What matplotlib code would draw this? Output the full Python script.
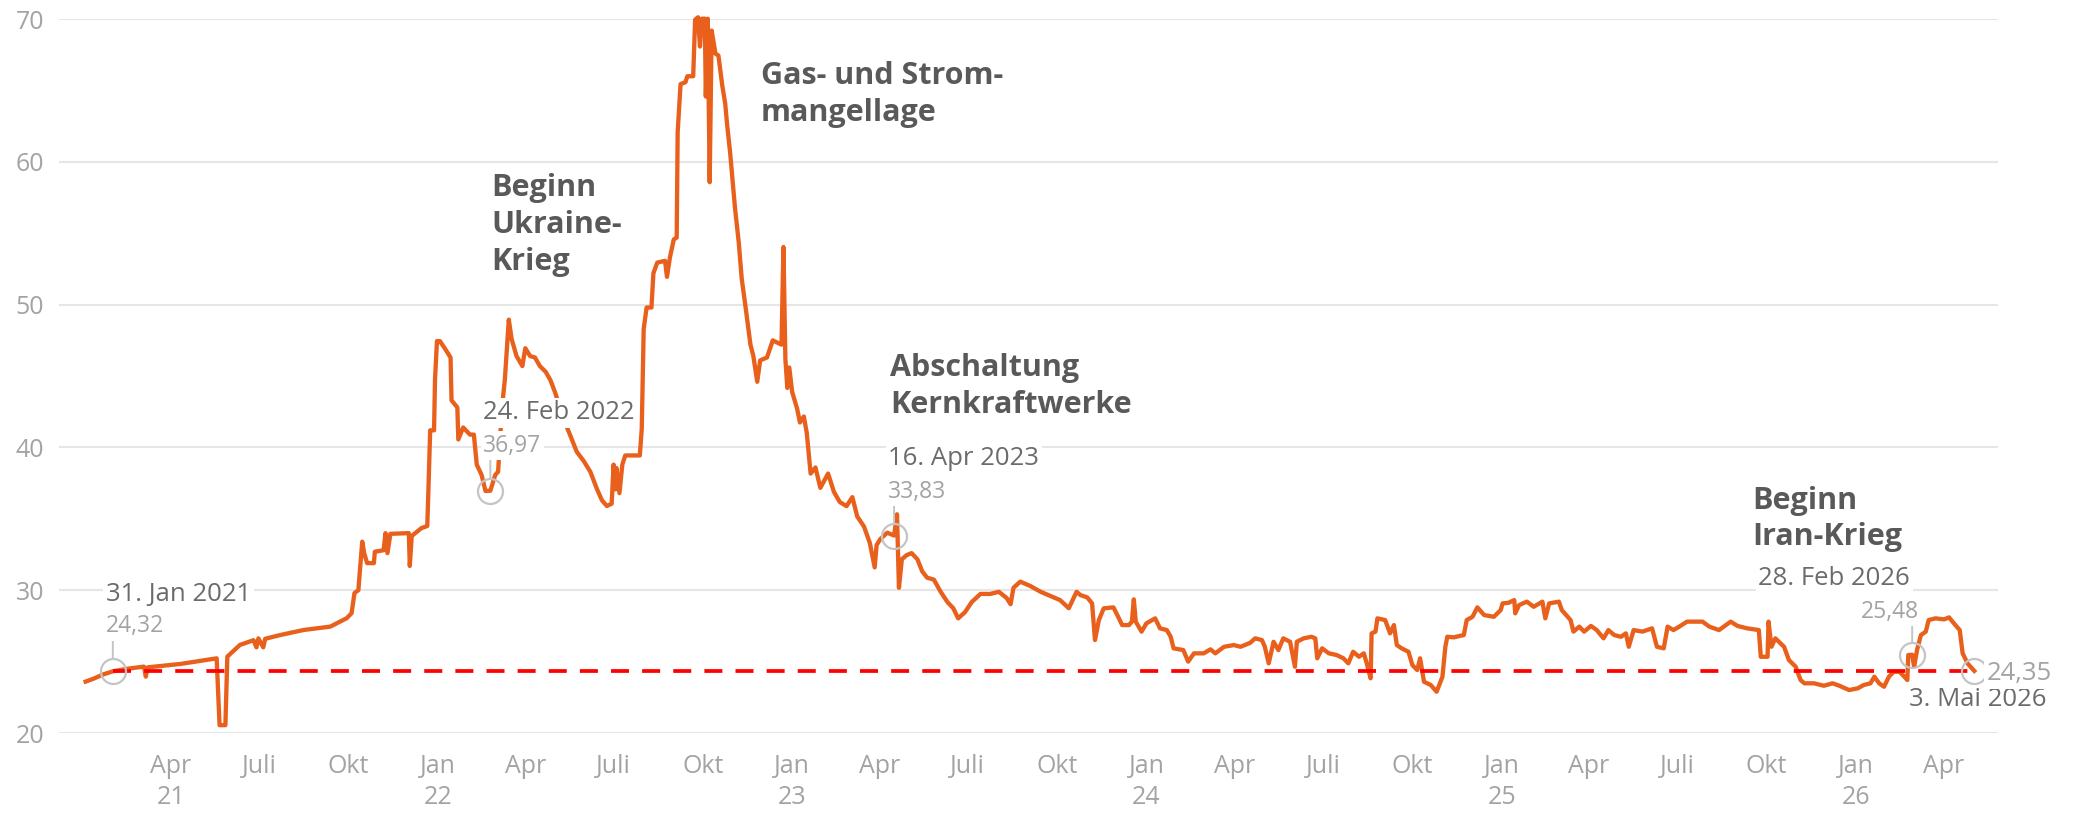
import matplotlib
matplotlib.use('Agg')
import matplotlib.pyplot as plt
import pandas as pd

plt.rcParams['font.family'] = ['Open Sans', 'DejaVu Sans']

# --- Daten ---
dates = [
    '2021-01-03', '2021-01-11', '2021-01-21', '2021-01-31', '2021-02-15', '2021-03-04',
    '2021-03-06', '2021-03-08', '2021-04-11', '2021-04-26', '2021-05-18', '2021-05-21',
    '2021-05-27', '2021-05-29', '2021-06-11', '2021-06-25', '2021-06-28', '2021-06-30',
    '2021-07-05', '2021-07-07', '2021-07-23', '2021-08-16', '2021-09-12', '2021-09-29',
    '2021-10-04', '2021-10-07', '2021-10-11', '2021-10-15', '2021-10-17', '2021-10-20',
    '2021-10-27', '2021-10-28', '2021-11-06', '2021-11-08', '2021-11-10', '2021-11-13',
    '2021-12-02', '2021-12-03', '2021-12-05', '2021-12-15', '2021-12-21', '2021-12-22',
    '2021-12-24', '2021-12-28', '2021-12-29', '2021-12-31',
    '2022-01-03', '2022-01-08', '2022-01-14', '2022-01-15', '2022-01-21', '2022-01-22',
    '2022-01-27', '2022-02-03', '2022-02-07', '2022-02-10', '2022-02-15', '2022-02-19',
    '2022-02-24', '2022-03-01', '2022-03-04', '2022-03-08', '2022-03-11', '2022-03-15',
    '2022-03-18', '2022-03-23', '2022-03-29', '2022-04-01', '2022-04-06', '2022-04-11',
    '2022-04-16', '2022-04-22', '2022-04-27', '2022-05-02', '2022-05-10', '2022-05-17',
    '2022-05-24', '2022-05-31', '2022-06-07', '2022-06-14', '2022-06-19', '2022-06-24',
    '2022-06-29', '2022-07-01', '2022-07-03', '2022-07-04', '2022-07-07', '2022-07-10',
    '2022-07-13', '2022-07-28', '2022-07-30', '2022-08-01', '2022-08-04', '2022-08-09',
    '2022-08-11', '2022-08-15', '2022-08-23', '2022-08-25', '2022-08-28', '2022-09-01',
    '2022-09-04', '2022-09-05', '2022-09-08', '2022-09-13', '2022-09-15', '2022-09-21',
    '2022-09-23', '2022-09-26', '2022-09-28', '2022-09-30', '2022-10-03', '2022-10-04',
    '2022-10-06', '2022-10-08', '2022-10-10', '2022-10-14', '2022-10-17', '2022-10-21',
    '2022-10-24', '2022-10-26', '2022-10-29', '2022-11-03', '2022-11-07', '2022-11-10',
    '2022-11-14', '2022-11-19', '2022-11-22', '2022-11-26', '2022-11-29', '2022-12-06',
    '2022-12-12', '2022-12-21', '2022-12-23', '2022-12-25', '2022-12-27', '2022-12-29',
    '2023-01-01', '2023-01-06', '2023-01-09', '2023-01-13', '2023-01-16', '2023-01-20',
    '2023-01-25', '2023-01-30', '2023-02-07', '2023-02-13', '2023-02-19', '2023-02-26',
    '2023-03-04', '2023-03-09', '2023-03-16', '2023-03-22', '2023-03-27', '2023-03-29',
    '2023-04-02', '2023-04-09', '2023-04-16', '2023-04-19', '2023-04-21', '2023-04-24',
    '2023-04-29', '2023-05-04', '2023-05-10', '2023-05-15', '2023-05-20', '2023-05-27',
    '2023-06-03', '2023-06-10', '2023-06-16', '2023-06-21', '2023-06-28', '2023-07-05',
    '2023-07-14', '2023-07-24', '2023-08-02', '2023-08-10', '2023-08-14', '2023-08-17',
    '2023-08-24', '2023-09-03', '2023-09-14', '2023-09-24', '2023-10-04', '2023-10-13',
    '2023-10-21', '2023-10-25', '2023-11-01', '2023-11-06', '2023-11-09', '2023-11-13',
    '2023-11-18', '2023-11-28', '2023-12-02', '2023-12-07', '2023-12-14', '2023-12-17',
    '2023-12-19', '2023-12-21', '2023-12-27',
    '2024-01-01', '2024-01-10', '2024-01-15', '2024-01-22', '2024-01-26', '2024-01-29',
    '2024-02-08', '2024-02-13', '2024-02-19', '2024-02-29', '2024-03-07', '2024-03-12',
    '2024-03-21', '2024-03-31', '2024-04-07', '2024-04-17', '2024-04-22', '2024-04-29',
    '2024-05-02', '2024-05-06', '2024-05-11', '2024-05-16', '2024-05-21', '2024-05-28',
    '2024-06-02', '2024-06-04', '2024-06-11', '2024-06-19', '2024-06-23', '2024-06-25',
    '2024-06-30', '2024-07-07', '2024-07-15', '2024-07-22', '2024-07-27', '2024-08-01',
    '2024-08-07', '2024-08-12', '2024-08-15', '2024-08-19', '2024-08-20', '2024-08-24',
    '2024-08-26', '2024-09-03', '2024-09-08', '2024-09-12', '2024-09-15', '2024-09-20',
    '2024-09-27', '2024-10-01', '2024-10-06', '2024-10-09', '2024-10-13', '2024-10-20',
    '2024-10-26', '2024-11-01', '2024-11-04', '2024-11-06', '2024-11-13', '2024-11-18',
    '2024-11-23', '2024-11-26', '2024-12-02', '2024-12-07', '2024-12-14', '2024-12-24',
    '2024-12-31',
    '2025-01-02', '2025-01-08', '2025-01-14', '2025-01-15', '2025-01-19', '2025-01-27',
    '2025-02-03', '2025-02-12', '2025-02-15', '2025-02-19', '2025-03-01', '2025-03-04',
    '2025-03-13', '2025-03-16', '2025-03-22', '2025-03-27', '2025-04-03', '2025-04-09',
    '2025-04-16', '2025-04-21', '2025-04-27', '2025-05-04', '2025-05-09', '2025-05-12',
    '2025-05-17', '2025-05-26', '2025-06-05', '2025-06-10', '2025-06-17', '2025-06-21',
    '2025-06-27', '2025-07-03', '2025-07-11', '2025-07-27', '2025-08-03', '2025-08-13',
    '2025-08-25', '2025-09-01', '2025-09-11', '2025-09-23', '2025-09-25', '2025-10-02',
    '2025-10-03', '2025-10-06', '2025-10-10', '2025-10-19', '2025-10-24', '2025-10-31',
    '2025-11-05', '2025-11-09', '2025-11-19', '2025-11-29', '2025-12-08', '2025-12-15',
    '2025-12-25',
    '2026-01-03', '2026-01-09', '2026-01-16', '2026-01-20', '2026-01-25', '2026-01-30',
    '2026-02-04', '2026-02-09', '2026-02-15', '2026-02-20', '2026-02-23', '2026-02-24',
    '2026-02-28', '2026-03-02', '2026-03-05', '2026-03-09', '2026-03-14', '2026-03-17',
    '2026-03-24', '2026-04-02', '2026-04-07', '2026-04-12', '2026-04-18', '2026-04-21',
    '2026-04-26', '2026-05-03',
]
prices = [
    23.6, 23.8, 24.1, 24.32, 24.5, 24.65,
    23.95, 24.6, 24.84, 25.0, 25.23, 20.55,
    20.55, 25.35, 26.17, 26.5, 26.0, 26.63,
    26.0, 26.6, 26.87, 27.22, 27.45, 28.04,
    28.39, 29.8, 30.0, 33.4, 32.6, 31.9,
    31.9, 32.7, 32.8, 34.0, 32.6, 33.95,
    34.0, 31.7, 33.8, 34.35, 34.5, 36.6,
    41.2, 41.2, 44.8, 47.45,
    47.45, 46.95, 46.3, 43.3, 42.8, 40.56,
    41.4, 40.9, 40.9, 38.8, 38.07, 36.95,
    36.97, 38.07, 38.3, 42.8, 44.8, 48.95,
    47.57, 46.4, 45.7, 46.95, 46.4, 46.3,
    45.7, 45.3, 44.7, 43.8, 42.06, 40.9,
    39.7, 39.07, 38.3, 37.06, 36.3, 35.9,
    36.06, 38.8, 37.06, 38.56, 36.8, 38.8,
    39.44, 39.44, 41.3, 48.3, 49.8, 49.8,
    52.2, 52.95, 53.07, 51.95, 53.3, 54.57,
    54.7, 62.08, 65.45, 65.58, 66.0, 66.0,
    69.96, 70.13, 68.08, 70.03, 70.03, 64.58,
    70.03, 58.58, 69.2, 67.58, 67.45, 65.33,
    64.08, 62.58, 60.7, 56.83, 54.32, 51.82,
    49.82, 47.2, 46.4, 44.6, 46.1, 46.3,
    47.5, 47.2, 54.04, 46.18, 44.17, 45.6,
    43.88, 42.74, 41.75, 42.17, 41.03, 38.17,
    38.6, 37.17, 38.17, 36.89, 36.18, 35.89,
    36.52, 35.17, 34.46, 33.31, 31.6, 33.17,
    33.6, 34.03, 33.83, 35.32, 30.17, 32.17,
    32.46, 32.6, 32.17, 31.32, 30.88, 30.74,
    29.89, 29.17, 28.74, 28.03, 28.46, 29.17,
    29.74, 29.74, 29.89, 29.45, 29.02, 30.17,
    30.6, 30.31, 29.89, 29.6, 29.31, 28.74,
    29.89, 29.66, 29.5, 29.08, 26.51, 27.91,
    28.73, 28.8, 28.26, 27.56, 27.56, 27.8,
    29.36, 27.8, 27.1,
    27.68, 28.03, 27.33, 27.21, 26.74, 25.93,
    25.81, 25.0, 25.58, 25.58, 25.86, 25.58,
    26.04, 26.16, 26.04, 26.32, 26.63, 26.51,
    26.04, 24.88, 26.39, 25.81, 26.63, 26.39,
    24.64, 26.39, 26.63, 26.74, 26.63, 25.23,
    25.93, 25.58, 25.46, 25.23, 24.88, 25.69,
    25.34, 25.58, 24.88, 23.83, 26.98, 27.1,
    28.03, 27.91, 26.98, 27.56, 26.16, 25.93,
    25.69, 24.76, 24.41, 25.23, 23.59, 23.36,
    22.89, 23.94, 26.04, 26.74, 26.7, 26.79,
    26.86, 27.91, 28.14, 28.8, 28.26, 28.14,
    28.61,
    29.08, 29.12, 29.31, 28.38, 28.96, 29.2,
    28.84, 29.2, 28.03, 29.08, 29.2, 28.61,
    27.91, 27.1, 27.45, 27.1, 27.5, 27.21,
    26.63, 27.21, 26.86, 26.74, 26.98, 26.04,
    27.21, 27.1, 27.33, 26.04, 25.93, 27.45,
    27.21, 27.45, 27.8, 27.8, 27.45, 27.21,
    27.8, 27.5, 27.33, 27.21, 25.34, 25.34,
    27.8, 26.04, 26.63, 26.04, 25.11, 24.64,
    23.71, 23.48, 23.48, 23.31, 23.48, 23.31,
    23.01,
    23.13, 23.36, 23.48, 23.94, 23.48, 23.24,
    23.94, 24.29, 24.29, 23.94, 23.71, 25.46,
    25.48, 24.64, 25.81, 26.86, 27.1, 27.91,
    28.03, 27.96, 28.1, 27.68, 27.21, 25.58,
    24.88, 24.35,
]

# markierte Tage
marker_dates = ['2021-01-31', '2022-02-24', '2023-04-16', '2026-02-28', '2026-05-03']
marker_values = [24.32, 36.97, 33.83, 25.48, 24.35]
marker_date_labels = ['31. Jan 2021', '24. Feb 2022', '16. Apr 2023', '28. Feb 2026', '3. Mai 2026']
marker_value_labels = ['24,32', '36,97', '33,83', '25,48', '24,35']

reference_level = 24.35

events = ['Beginn\nUkraine-\nKrieg', 'Gas- und Strom-\nmangellage',
          'Abschaltung\nKernkraftwerke', 'Beginn\nIran-Krieg']

month_names = {1: 'Jan', 4: 'Apr', 7: 'Juli', 10: 'Okt'}

# --- Layout ---
ORANGE = '#e8601c'
GRID = '#e6e6e6'
TICK = '#a3a3a3'
DATE_COL = '#6b6b6b'
VALUE_COL = '#a3a3a3'
CIRCLE = '#c4c4c4'

# Textpositionen der Ereignisse (Datum links, Oberkante)
event_pos = [('2022-02-25', 59.2), ('2022-11-30', 67.06),
             ('2023-04-12', 46.6), ('2025-09-16', 37.33)]
# Offsets (Pixel) der Datums- und Wert-Labels relativ zum Kreis
date_offsets = [(-7, 77, 'left'), (-7, 78, 'left'), (-6, 77, 'left'),
                (-2, 76, 'right'), (-65, -29, 'left')]
value_offsets = [(-7, 45, 'left'), (-7, 45, 'left'), (-6, 44, 'left'),
                 (7, 43, 'right'), (12, -3, 'left')]
value_sizes = [16.5, 16.5, 16.5, 16.5, 18.5]

x = pd.to_datetime(dates)
mx = pd.to_datetime(marker_dates)

fig = plt.figure(figsize=(20.78, 8.14), dpi=100)
ax = fig.add_axes([0.0286, 0.0995, 0.9327, 0.877])

ax.plot(x, prices, color=ORANGE, lw=3.1, solid_joinstyle='round', zorder=2, clip_on=False)

ax.plot([mx[0], mx[-1]], [reference_level, reference_level], color='#ff0000', lw=2.7,
        linestyle=(0, (4.8, 3.5)), zorder=3)

ax.plot(mx, marker_values, 'o', ms=18, mfc='none', mec=CIRCLE, mew=1.6, zorder=5, clip_on=False)

bbox = dict(boxstyle='square,pad=0.1', fc='white', ec='none')
for i, (d, v) in enumerate(zip(mx, marker_values)):
    if i < len(mx) - 1:
        ax.annotate('', xy=(d, v), xytext=(0, 37), textcoords='offset pixels',
                    arrowprops=dict(arrowstyle='-', color=CIRCLE, lw=1.4, shrinkA=0, shrinkB=9),
                    zorder=4)
    dx, dy, ha = date_offsets[i]
    ax.annotate(marker_date_labels[i], xy=(d, v), xytext=(dx, dy), textcoords='offset pixels',
                ha=ha, va='center', fontsize=18.5, color=DATE_COL, bbox=bbox, zorder=6)
    dx, dy, ha = value_offsets[i]
    ax.annotate(marker_value_labels[i], xy=(d, v), xytext=(dx, dy), textcoords='offset pixels',
                ha=ha, va='center', fontsize=value_sizes[i], color=VALUE_COL, bbox=bbox, zorder=6)

for text, (d, v) in zip(events, event_pos):
    ax.text(pd.Timestamp(d), v, text, ha='left', va='top', fontsize=22, fontweight='bold',
            color='#595959', linespacing=1.3, zorder=6)

# Achsen
ax.set_xlim(pd.Timestamp('2020-12-07'), pd.Timestamp('2026-05-27'))
ax.set_ylim(20, 70)
ax.set_yticks(range(20, 71, 10))

ticks = pd.date_range('2021-04-01', '2026-04-01', freq='QS')
labels = []
for k, t in enumerate(ticks):
    lab = month_names[t.month]
    if t.month == 1 or k == 0:
        lab += '\n' + t.strftime('%y')
    labels.append(lab)
ax.set_xticks(ticks)
ax.set_xticklabels(labels, linespacing=1.35)

ax.tick_params(axis='both', length=0, labelsize=18, colors=TICK)
ax.tick_params(axis='x', pad=15)
ax.tick_params(axis='y', pad=11)

ax.yaxis.grid(True, color=GRID, lw=1.5)
ax.set_axisbelow(True)
for s in ax.spines.values():
    s.set_visible(False)

fig.savefig('out.png', dpi=100)
